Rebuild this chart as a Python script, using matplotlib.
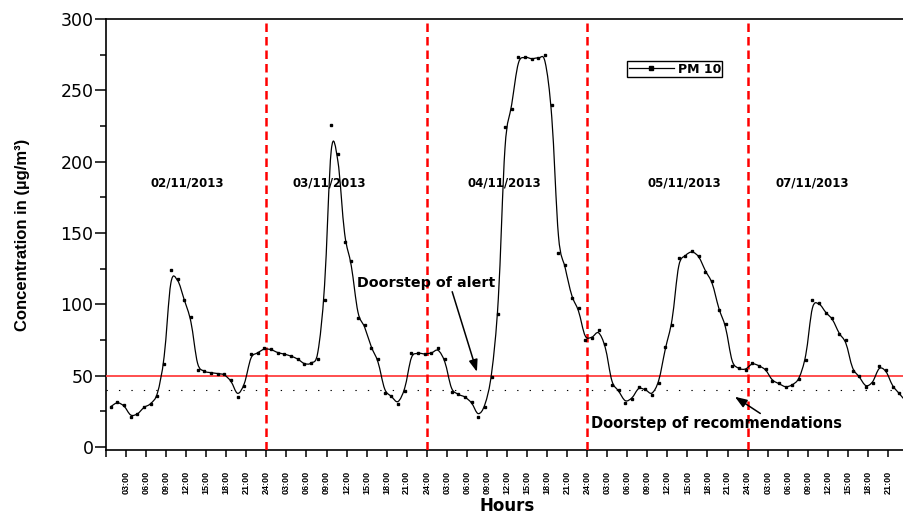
import numpy as np
import matplotlib
matplotlib.use('Agg')
import matplotlib.pyplot as plt
from matplotlib.path import Path
from matplotlib.patches import PathPatch
from matplotlib.lines import Line2D

# hourly PM10 values (ug/m3), 5 days x 24 h
pm10 = [28.3, 31.8, 29.4, 21.3, 22.9, 28.3, 30.1, 36.0, 58.0, 123.8, 118.0, 103.0,
        90.9, 54.4, 53.3, 52.1, 51.6, 51.0, 47.0, 35.3, 42.8, 65.2, 65.7, 69.2,
        68.5, 66.1, 65.2, 63.8, 61.9, 58.0, 58.7, 61.9, 103.0, 225.7, 205.4, 143.9,
        130.4, 90.2, 85.5, 69.2, 61.5, 38.1, 36.0, 30.1, 39.3, 66.1, 65.7, 65.2,
        65.7, 69.2, 61.5, 38.8, 37.1, 35.3, 31.8, 21.3, 28.3, 49.3, 93.0, 224.5,
        237.0, 273.6, 273.1, 272.0, 272.4, 274.5, 239.7, 136.2, 127.6, 104.2, 97.2, 75.0,
        76.6, 82.0, 72.2, 43.2, 40.0, 31.1, 33.9, 42.3, 40.4, 36.4, 44.6, 70.3,
        85.5, 132.7, 133.9, 137.6, 134.1, 122.9, 116.4, 96.0, 86.2, 57.0, 55.2, 54.0,
        59.2, 57.0, 54.7, 46.3, 44.6, 41.8, 43.5, 47.5, 61.0, 103.0, 100.7, 94.1,
        90.2, 79.0, 75.0, 53.5, 49.8, 41.8, 44.6, 57.0, 54.0, 42.3, 37.6, 32.0]

day_labels = ['02/11/2013', '03/11/2013', '04/11/2013', '05/11/2013', '07/11/2013']
day_hours = ['03:00', '06:00', '09:00', '12:00', '15:00', '18:00', '21:00', '24:00']
tick_labels = [''] + day_hours * 5
day_breaks = [24, 48, 72, 96]
alert_level = 50
recommend_level = 40

plt.rcParams['font.family'] = ['DejaVu Sans']

fig = plt.figure(figsize=(9.04, 5.17), dpi=100)
ax = fig.add_axes([106 / 904, 67 / 517, 802 / 904, 431 / 517])

t = np.arange(len(pm10)) + 0.7
y = np.array(pm10)

# smooth connecting curve (lightly smoothed Catmull-Rom as bezier path)
q = y.copy()
q[1:-1] = (y[:-2] + 6 * y[1:-1] + y[2:]) / 8
pts = np.column_stack([t, q])
verts = [pts[0]]
codes = [Path.MOVETO]
n = len(pts)
for i in range(n - 1):
    p0 = pts[i - 1] if i > 0 else pts[i]
    p1 = pts[i]
    p2 = pts[i + 1]
    p3 = pts[i + 2] if i + 2 < n else pts[i + 1]
    verts += [p1 + (p2 - p0) / 6, p2 - (p3 - p1) / 6, p2]
    codes += [Path.CURVE4] * 3
ax.add_patch(PathPatch(Path(verts, codes), fill=False, edgecolor='black', lw=0.9, zorder=4))
ax.plot(t, y, 's', color='black', ms=1.7, zorder=5)

# thresholds
ax.axhline(alert_level, color='#ff4040', lw=1.3, zorder=3)
ax.axhline(recommend_level, color='black', lw=0.8, linestyle=(0, (1.2, 10)), zorder=3)
for b in day_breaks:
    ax.axvline(b, color='#ff0000', lw=1.8, linestyle=(0, (3.4, 2.0)), zorder=3)

date_x = [12.2, 33.4, 59.6, 86.6, 105.7]
for dx, lab in zip(date_x, day_labels):
    ax.text(dx, 185, lab, ha='center', va='center', fontsize=8.5, fontweight='bold')

ax.text(47.9, 114.7, 'Doorstep of alert', ha='center', va='center', fontsize=10.3, fontweight='bold')
ax.annotate('', xy=(55.5, 52.8), xytext=(51.8, 108.9),
            arrowprops=dict(arrowstyle='-|>,head_length=0.6,head_width=0.22', color='black',
                            lw=1.1, mutation_scale=12, shrinkA=0, shrinkB=0))
ax.text(91.4, 16.5, 'Doorstep of recommendations', ha='center', va='center', fontsize=10.5,
        fontweight='bold')
ax.annotate('', xy=(94.1, 35.3), xytext=(97.9, 23.6),
            arrowprops=dict(arrowstyle='-|>,head_length=0.6,head_width=0.22', color='black',
                            lw=1.1, mutation_scale=12, shrinkA=0, shrinkB=0))

# axes
ax.set_xlim(0, 120)
ax.set_ylim(-2, 300)
ax.set_xticks(np.arange(0, 121, 3))
ax.set_xticklabels(tick_labels, rotation=90, fontsize=6.5, fontweight='bold',
                   family=['Liberation Sans Narrow', 'Liberation Sans', 'DejaVu Sans'])
ax.set_yticks(np.arange(0, 301, 50))
ax.set_yticks(np.arange(25, 300, 50), minor=True)
ax.tick_params(axis='y', which='major', length=8, width=1.1, labelsize=12.5, pad=1)
ax.tick_params(axis='y', which='minor', length=4.5, width=1.1)
ax.tick_params(axis='x', which='major', length=5, width=1.1, pad=10)
for s in ax.spines.values():
    s.set_linewidth(1.2)

ax.set_xlabel('Hours', fontsize=12, fontweight='bold', labelpad=2)
ax.set_ylabel('Concentration in (µg/m³)', fontsize=12, fontweight='bold', labelpad=22,
              family=['Liberation Sans', 'DejaVu Sans'])

handle = Line2D([], [], color='black', lw=0.9, marker='s', ms=2.2)
leg = ax.legend([handle], ['PM 10'], loc='upper left', bbox_to_anchor=(0.65, 0.902),
                borderaxespad=0, fancybox=False, edgecolor='black', framealpha=1,
                handlelength=3.6, handletextpad=0.3, borderpad=0.12,
                prop={'weight': 'bold', 'size': 9})
leg.get_frame().set_linewidth(1.0)

fig.savefig('out.png', dpi=100)
